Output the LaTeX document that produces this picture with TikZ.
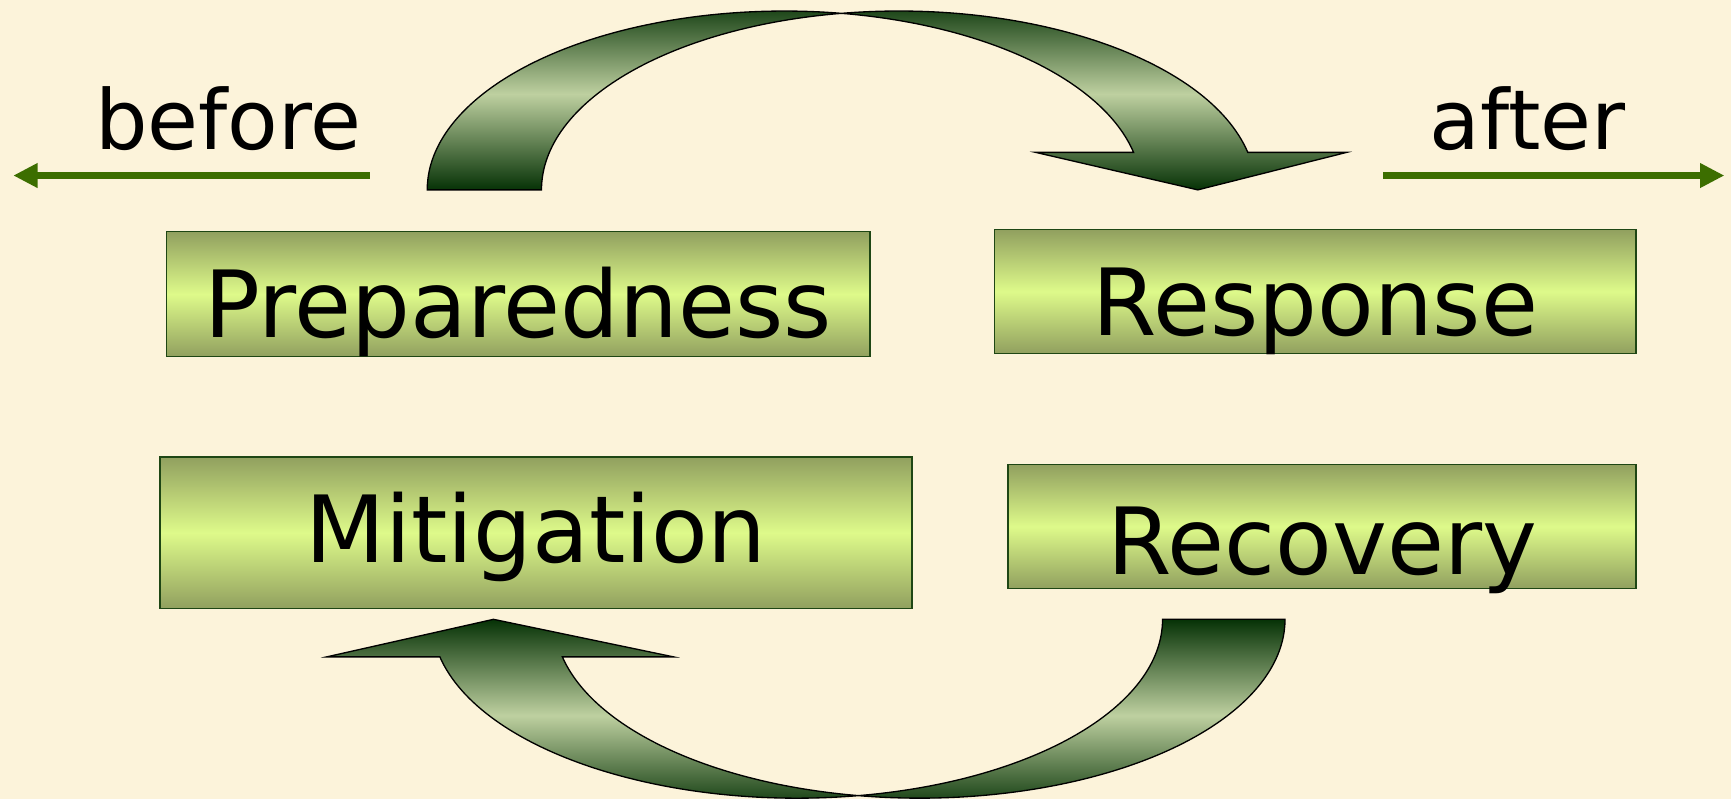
\documentclass[tikz,border=0pt]{standalone}
\usepackage{fontspec}
\setmainfont{DejaVu Sans}
\usetikzlibrary{arrows.meta}
\definecolor{bg}{RGB}{252,243,218}
\definecolor{arrdark}{RGB}{6,50,6}
\definecolor{arrlight}{RGB}{190,208,160}
\definecolor{boxdark}{RGB}{145,160,95}
\definecolor{boxlight}{RGB}{222,250,138}
\definecolor{boxline}{RGB}{30,70,20}
\definecolor{linegreen}{RGB}{60,110,0}
\begin{document}
\begin{tikzpicture}[x=1pt,y=1pt,
  phase/.style={draw=boxline, line width=1.2pt, top color=boxdark, bottom color=boxdark, middle color=boxlight, inner sep=0pt, font=\fontsize{84}{90}\selectfont, text depth=0pt},
  bendarrow/.style={draw=black, line width=1.2pt, top color=arrdark, bottom color=arrdark, middle color=arrlight},
  timeline/.style={draw=linegreen, line width=6pt, -{Triangle[length=22pt,width=21pt]}},
  word/.style={font=\fontsize{75}{80}\selectfont, anchor=base, inner sep=0pt}]
\fill[bg] (0,0) rectangle (1568,724);
\useasboundingbox (0,0) rectangle (1568,724);

% phase boxes
\node[phase, minimum width=637pt, minimum height=113pt, text height=79pt] (prep) at (469.5,457.5) {Preparedness};
\node[phase, minimum width=581pt, minimum height=112pt, text height=80pt] (resp) at (1191.5,460) {Response};
\node[phase, minimum width=681pt, minimum height=137pt, text height=54pt] (miti) at (485.5,241.5) {Mitigation};
\node[phase, minimum width=569pt, minimum height=112pt, text height=86pt] (reco) at (1197.5,247) {Recovery};

% before / after
\node[word] (before) at (207,589) {before};
\node[word] (after) at (1384,589) {after};
\coordinate (b0) at (335,565);
\coordinate (b1) at (12,565);
\coordinate (a0) at (1253,565);
\coordinate (a1) at (1562,565);
\draw[timeline] (b0) -- (b1);
\draw[timeline] (a0) -- (a1);

% top curved arrow
\path[bendarrow] (387,552)
  arc[start angle=180, end angle=80.795, x radius=323.5pt, y radius=162pt]
  arc[start angle=99.205, end angle=12.115, x radius=323.5pt, y radius=162pt]
  -- (1220,586) -- (1085,552) -- (938,586) -- (1026.8,586)
  arc[start angle=12.115, end angle=80.795, x radius=323.5pt, y radius=162pt]
  arc[start angle=99.205, end angle=180, x radius=323.5pt, y radius=162pt]
  -- cycle;

% bottom curved arrow
\path[bendarrow] (1164,163)
  arc[start angle=360, end angle=260.35, x radius=331pt, y radius=162pt]
  arc[start angle=279.65, end angle=192.115, x radius=331pt, y radius=162pt]
  -- (296,129) -- (447,163) -- (610,129) -- (509.4,129)
  arc[start angle=192.115, end angle=260.35, x radius=331pt, y radius=162pt]
  arc[start angle=279.65, end angle=360, x radius=331pt, y radius=162pt]
  -- cycle;
\end{tikzpicture}
\end{document}
